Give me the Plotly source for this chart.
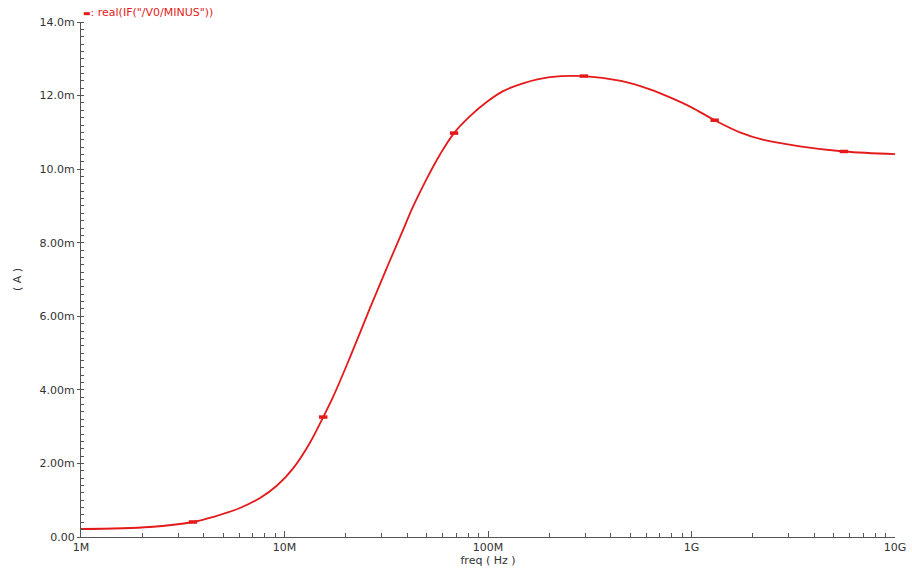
import plotly.graph_objects as go

# ---- data ----
freq_hz = [1.0e6, 2.18e6, 3.55e6, 4.45e6, 6.04e6, 7.58e6, 9.19e6, 11.0e6, 13.3e6,
           15.5e6, 17.3e6, 21.0e6, 26.3e6, 31.9e6, 37.8e6, 42.8e6, 50.1e6, 58.1e6,
           68.1e6, 81.6e6, 100e6, 118.6e6, 150e6, 201.7e6, 296e6, 450e6, 625e6,
           784e6, 1.0e9, 1.30e9, 1.73e9, 2.24e9, 3.41e9, 5.61e9, 1.0e10]
current_mA = [0.217, 0.272, 0.408, 0.543, 0.788, 1.06, 1.40, 1.86, 2.55,
              3.26, 3.80, 4.89, 6.22, 7.33, 8.28, 8.98, 9.75, 10.40,
              10.98, 11.44, 11.85, 12.12, 12.34, 12.50, 12.53, 12.40, 12.17,
              11.95, 11.68, 11.33, 11.00, 10.80, 10.62, 10.48, 10.41]
marker_idx = [2, 9, 18, 24, 29, 33]

y_tickvals_mA = [0, 2, 4, 6, 8, 10, 12, 14]
y_ticktext = ["0.00", "2.00m", "4.00m", "6.00m", "8.00m", "10.0m", "12.0m", "14.0m"]
x_tickvals = [1e6, 1e7, 1e8, 1e9, 1e10]
x_ticktext = ["1M", "10M", "100M", "1G", "10G"]
trace_name = 'real(IF("/V0/MINUS"))'

current_A = [v * 1e-3 for v in current_mA]
RED = "#e41a1a"
FONT = "DejaVu Sans"
AX = "#555555"
TXT = "#333333"

fig = go.Figure()
fig.add_trace(go.Scatter(
    x=freq_hz, y=current_A, mode="lines",
    line=dict(color=RED, width=1.8, shape="spline", smoothing=1.0),
    showlegend=False, hoverinfo="skip"))
fig.add_trace(go.Scatter(
    x=[freq_hz[i] for i in marker_idx], y=[current_A[i] for i in marker_idx],
    mode="markers",
    marker=dict(symbol="line-ew", size=6, color=RED, line=dict(color=RED, width=3.5)),
    showlegend=False, hoverinfo="skip"))

fig.update_layout(
    width=912, height=571,
    margin=dict(l=81, r=17, t=22, b=34),
    paper_bgcolor="white", plot_bgcolor="white",
    font=dict(family=FONT, size=11, color=TXT),
    xaxis=dict(
        type="log", range=[6, 10], automargin=False,
        tickvals=x_tickvals, ticktext=x_ticktext,
        showgrid=False, zeroline=False,
        showline=True, linecolor=AX, linewidth=1,
        ticks="inside", ticklen=6, tickcolor=AX,
        minor=dict(ticks="inside", ticklen=4, tickcolor=AX, dtick="D1", showgrid=False),
        tickfont=dict(family=FONT, size=11, color=TXT),
        title=dict(text="freq ( Hz )", font=dict(family=FONT, size=11, color=TXT), standoff=0),
    ),
    yaxis=dict(
        range=[0, 0.014], automargin=False,
        tickvals=[v * 1e-3 for v in y_tickvals_mA], ticktext=y_ticktext,
        showgrid=False, zeroline=False,
        showline=True, linecolor=AX, linewidth=1,
        ticks="outside", ticklen=3, tickcolor=AX,
        minor=dict(ticks="inside", ticklen=3, tickcolor=AX, dtick=0.0002, showgrid=False),
        tickfont=dict(family=FONT, size=11, color=TXT),
        title=dict(text="( A )", font=dict(family=FONT, size=11, color=TXT), standoff=15),
    ),
)

fig.add_annotation(
    xref="paper", yref="paper", x=0.0, y=1.0 + 10 / 515, xanchor="left", yanchor="middle",
    showarrow=False,
    text="<span style='font-size:8px'>▬</span>: " + trace_name,
    font=dict(family=FONT, size=11, color=RED))

fig.write_html("out.html")
